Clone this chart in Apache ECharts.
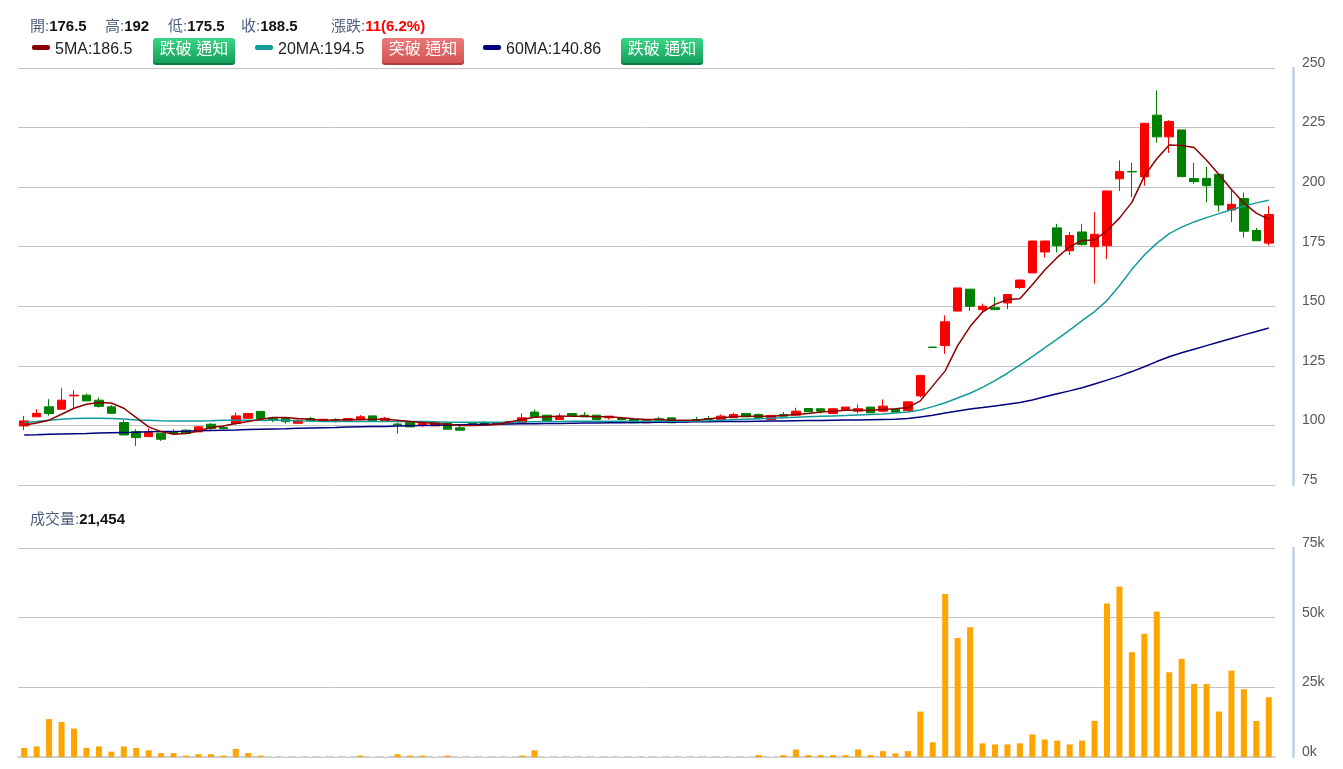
<!DOCTYPE html>
<html>
<head>
<meta charset="utf-8">
<script src="https://cdn.jsdelivr.net/npm/echarts@6/dist/echarts.min.js"></script>
<style>
html,body{margin:0;padding:0;background:#fff;}
#chart{width:1343px;height:769px;}
</style>
</head>
<body>
<div id="chart"></div>
<script>
// ---------- data ----------
var opens = [99.8,103.6,107.8,106.8,112.4,112.7,110.6,107.8,101.2,97.4,
  95.3,96.7,97.4,98.0,97.3,100.5,99.1,100.8,103.0,105.9,
  103.0,103.3,100.9,102.9,101.9,102.4,101.9,102.6,104.0,101.9,
  100.6,101.2,100.1,99.8,101.0,99.0,100.8,101.1,100.6,101.1,
  100.8,105.6,104.3,102.5,105.0,104.3,104.3,103.2,102.9,102.5,
  101.1,102.8,103.2,101.4,102.5,102.9,102.5,103.2,105.0,104.6,
  102.5,104.6,104.3,107.1,107.0,105.0,106.7,106.0,107.7,106.0,
  106.7,106.2,112.4,132.9,133.5,148.0,157.2,148.6,149.4,151.4,
  157.9,164.0,172.8,182.9,173.3,181.2,175.0,175.4,203.5,206.6,
  204.3,230.2,221.1,224.0,203.6,203.7,205.4,190.4,195.2,181.8,
  176.5];
var closes = [101.9,105.1,105.0,110.6,112.7,110.3,108.0,105.1,96.0,94.9,
  97.0,94.2,96.6,96.6,99.4,98.7,98.7,104.0,105.0,102.9,
  102.1,101.6,102.2,101.9,102.6,102.2,102.9,103.6,101.9,103.0,
  100.3,99.4,100.8,101.2,98.4,98.0,100.0,100.4,100.8,101.7,
  103.2,103.6,102.1,103.9,104.2,103.6,102.5,103.9,102.5,101.1,
  102.5,102.2,101.1,101.8,102.2,102.5,103.9,104.6,103.6,102.9,
  104.2,103.9,106.0,105.7,106.0,107.0,107.7,107.0,105.3,108.1,
  105.6,109.9,121.0,132.7,143.5,157.7,150.0,150.0,148.6,154.9,
  161.0,177.4,177.4,175.4,179.7,175.9,180.2,198.4,206.6,206.4,
  226.8,221.1,227.5,204.4,202.3,200.6,192.5,192.8,181.5,177.5,
  188.5];
var lows = [98.0,103.6,104.1,106.8,107.5,110.3,107.5,105.1,96.0,91.4,
  95.3,93.5,96.3,96.3,97.3,97.7,98.4,100.2,103.0,102.9,
  101.4,100.8,100.9,101.6,101.9,101.3,101.9,102.6,101.9,101.6,
  96.6,99.4,99.4,99.8,98.4,98.0,100.0,100.0,100.6,101.1,
  100.8,103.6,102.1,102.5,104.2,103.6,102.5,102.5,102.2,101.1,
  101.1,102.2,101.1,101.4,101.4,102.2,102.5,103.2,103.6,102.5,
  102.5,103.9,104.3,105.7,105.0,105.0,106.7,105.0,105.3,105.5,
  105.6,106.2,111.7,132.7,130.0,148.0,148.0,147.3,148.6,148.8,
  157.2,164.0,170.5,172.6,171.5,175.5,159.5,169.8,198.4,195.9,
  200.6,218.7,214.4,204.4,201.4,193.6,189.7,185.3,178.8,177.5,
  175.5];
var highs = [104.0,106.8,111.0,115.6,114.8,113.4,111.7,108.6,102.2,98.4,
  98.7,96.7,98.4,98.4,99.8,100.9,99.8,105.4,105.3,105.9,
  103.6,103.6,102.6,103.6,102.6,103.0,102.9,104.3,104.0,103.6,
  101.2,101.2,101.2,101.2,101.0,100.0,100.8,101.8,100.8,101.7,
  105.0,106.7,104.3,105.0,105.0,105.6,104.3,103.9,103.6,102.5,
  102.5,103.6,103.2,101.8,103.6,103.9,104.6,105.3,105.0,105.0,
  104.2,105.6,107.4,107.1,107.0,107.0,107.7,108.8,107.7,110.9,
  106.7,109.9,121.0,132.9,146.2,157.7,157.2,151.1,153.9,154.9,
  161.3,177.4,177.4,184.6,181.2,184.6,189.5,198.4,211.2,210.2,
  226.8,240.6,228.1,224.0,210.2,208.5,205.4,199.0,197.7,182.9,
  192.0];
var volumes = [3300,3800,13600,12600,10200,3300,3800,1900,3800,3300,
  2400,1400,1400,500,1000,1000,500,2900,1400,500,
  0,0,0,0,0,0,0,500,0,0,
  1000,500,500,0,500,0,0,0,0,0,
  500,2400,0,0,0,0,0,0,0,0,
  0,0,0,0,0,0,0,0,0,700,
  0,700,2700,700,700,700,700,2700,700,2100,
  1300,2100,16300,5300,58500,42700,46600,4900,4500,4500,
  4900,8100,6300,5900,4500,5900,13000,55100,61200,37600,
  44200,52200,30400,35200,26200,26200,16300,31000,24300,12900,
  21454];
var ma5 = [100.2,101.0,102.2,104.7,107.2,108.9,109.6,109.4,107.2,103.3,
  99.4,97.4,96.3,96.6,97.7,99.1,99.8,100.8,101.6,102.6,
  103.3,103.3,102.9,102.6,102.2,102.3,102.4,102.4,102.6,102.6,
  102.2,101.6,101.2,100.8,100.5,100.0,100.0,100.1,100.4,101.4,
  102.5,103.4,103.6,103.9,103.9,103.9,103.6,103.6,103.2,102.8,
  102.5,102.5,102.2,102.2,102.2,102.8,103.2,103.6,103.9,103.9,
  103.9,104.2,104.6,105.0,105.6,106.0,106.4,106.4,106.4,106.7,
  107.0,107.5,110.3,116.6,122.9,133.5,141.5,147.6,150.8,152.8,
  153.2,159.0,165.2,170.5,175.0,177.6,177.8,181.8,187.0,193.6,
  204.6,211.9,217.7,217.5,216.6,211.3,205.3,199.0,193.3,189.1,
  186.5];
var ma20 = [101.2,101.6,102.2,102.6,102.9,103.0,103.0,102.9,102.7,102.3,
  102.2,102.0,101.9,101.9,101.9,102.0,102.2,102.2,102.2,102.2,
  102.2,102.2,102.0,101.9,101.7,101.6,101.6,101.6,101.6,101.6,
  101.6,101.6,101.6,101.5,101.3,101.3,101.3,101.3,101.3,101.3,
  101.4,101.5,101.6,101.7,101.8,101.8,101.8,101.8,101.8,101.8,
  101.8,101.8,101.8,101.8,101.9,102.0,102.2,102.4,102.6,102.8,
  103.0,103.2,103.4,103.6,103.8,104.0,104.2,104.4,104.6,104.8,
  105.2,105.6,106.5,107.9,109.5,111.5,113.5,116.0,118.8,121.9,
  125.3,128.9,132.5,136.2,140.0,144.0,147.8,152.4,158.6,165.5,
  171.5,176.4,180.5,183.2,185.4,187.2,188.9,190.5,192.0,193.4,
  194.5];
var ma60 = [96.0,96.1,96.3,96.4,96.5,96.6,96.8,96.9,97.0,97.1,
  97.3,97.4,97.5,97.6,97.8,97.9,98.0,98.1,98.3,98.4,
  98.5,98.6,98.8,98.9,99.0,99.1,99.3,99.4,99.5,99.6,
  99.8,99.9,100.0,100.1,100.2,100.3,100.4,100.5,100.5,100.6,
  100.7,100.7,100.8,100.8,100.9,101.0,101.0,101.1,101.1,101.2,
  101.2,101.3,101.3,101.4,101.5,101.5,101.6,101.7,101.7,101.8,
  101.9,101.9,102.0,102.1,102.1,102.2,102.3,102.3,102.4,102.5,
  102.6,102.9,103.5,104.3,105.2,106.1,106.9,107.5,108.2,108.9,
  109.6,110.7,112.0,113.3,114.5,115.8,117.4,119.0,120.7,122.6,
  124.6,126.8,128.8,130.5,132.0,133.5,135.0,136.5,138.0,139.4,
  140.86];
var categories = [];
for (var k = 0; k < closes.length; k++) categories.push('D' + (k + 1));

var priceTicks = {min: 75, max: 250, interval: 25};
var volTicks = {min: 0, max: 75000, interval: 25000};

var headerItems = [
  {label: '開:', value: '176.5'},
  {label: '高:', value: '192'},
  {label: '低:', value: '175.5'},
  {label: '收:', value: '188.5'},
  {label: '漲跌:', value: '11(6.2%)'}
];
var maLegend = [
  {name: '5MA', value: '186.5', color: '#8b0000', button: '跌破 通知', kind: 'green'},
  {name: '20MA', value: '194.5', color: '#129a9a', button: '突破 通知', kind: 'red'},
  {name: '60MA', value: '140.86', color: '#00007f', button: '跌破 通知', kind: 'green'}
];
var volumeLabel = {label: '成交量:', value: '21,454'};

// ---------- build ----------
var FONT = "'Liberation Sans', Arial, 'Noto Sans CJK TC', sans-serif";
var ohlc = opens.map(function (o, i) { return [o, closes[i], lows[i], highs[i]]; });

var headerX = [30, 105, 168, 241, 331];
var graphics = [];
headerItems.forEach(function (h, i) {
  graphics.push({
    type: 'text', x: headerX[i], y: 27,
    style: {
      text: '{l|' + h.label + '}{' + (i === 4 ? 'r' : 'v') + '|' + h.value + '}',
      verticalAlign: 'middle',
      rich: {
        l: {fontSize: 15, fontFamily: FONT, fill: '#4f6180', color: '#4f6180'},
        v: {fontSize: 15, fontFamily: FONT, fontWeight: 'bold', fill: '#111', color: '#111'},
        r: {fontSize: 15, fontFamily: FONT, fontWeight: 'bold', fill: '#ff0000', color: '#ff0000'}
      }
    }
  });
});
var legendX = [32, 255, 483];
var btnX = [153, 382, 621];
maLegend.forEach(function (m, i) {
  graphics.push({type: 'rect', shape: {x: legendX[i], y: 45, width: 18, height: 5, r: 2}, style: {fill: m.color}});
  graphics.push({type: 'text', x: legendX[i] + 23, y: 50,
    style: {text: m.name + ':' + m.value, fontSize: 16, fontFamily: FONT, fill: '#222', verticalAlign: 'middle'}});
  var top = m.kind === 'green' ? '#3bd585' : '#ec7a7a';
  var bot = m.kind === 'green' ? '#14a05a' : '#d45454';
  var edge = m.kind === 'green' ? '#0d7c43' : '#b03c3c';
  graphics.push({type: 'rect', shape: {x: btnX[i], y: 39, width: 82, height: 26, r: 3}, style: {fill: edge}});
  graphics.push({type: 'rect', shape: {x: btnX[i], y: 38, width: 82, height: 25, r: 3},
    style: {fill: new echarts.graphic.LinearGradient(0, 0, 0, 1, [{offset: 0, color: top}, {offset: 1, color: bot}])}});
  graphics.push({type: 'text', x: btnX[i] + 41, y: 50,
    style: {text: m.button, fontSize: 16, fontFamily: FONT, fill: '#fff', align: 'center', verticalAlign: 'middle'}});
});
graphics.push({
  type: 'text', x: 30, y: 520,
  style: {
    text: '{l|' + volumeLabel.label + '}{v|' + volumeLabel.value + '}',
    verticalAlign: 'middle',
    rich: {
      l: {fontSize: 15, fontFamily: FONT, fill: '#4f6180', color: '#4f6180'},
      v: {fontSize: 15, fontFamily: FONT, fontWeight: 'bold', fill: '#111', color: '#111'}
    }
  }
});

var chart = echarts.init(document.getElementById('chart'), null, {renderer: 'canvas'});
var axisLabelStyle = {color: '#555', fontSize: 14, fontFamily: FONT, margin: 9, verticalAlign: 'bottom', lineHeight: 10};
chart.setOption({
  animation: false,
  backgroundColor: '#fff',
  graphic: graphics,
  grid: [
    {left: 18, right: 68, top: 68, height: 417},
    {left: 18, right: 68, top: 548, height: 209}
  ],
  xAxis: [
    {type: 'category', data: categories, gridIndex: 0, boundaryGap: true,
      axisLine: {show: false}, axisTick: {show: false}, axisLabel: {show: false}, splitLine: {show: false}},
    {type: 'category', data: categories, gridIndex: 1, boundaryGap: true,
      axisLine: {show: true, lineStyle: {color: '#cfcfcf', width: 2, type: [7, 5.45], dashOffset: 3.5}},
      axisTick: {show: false}, axisLabel: {show: false}, splitLine: {show: false}}
  ],
  yAxis: [
    {type: 'value', gridIndex: 0, position: 'right', offset: 18,
      min: priceTicks.min, max: priceTicks.max, interval: priceTicks.interval,
      axisLine: {show: true, lineStyle: {color: '#bfd0e2', width: 2.5}},
      axisTick: {show: false}, axisLabel: axisLabelStyle,
      splitLine: {show: true, lineStyle: {color: '#c4c4c4', width: 1}}},
    {type: 'value', gridIndex: 1, position: 'right', offset: 18,
      min: volTicks.min, max: volTicks.max, interval: volTicks.interval,
      axisLine: {show: true, lineStyle: {color: '#bfd0e2', width: 2.5}},
      axisTick: {show: false},
      axisLabel: Object.assign({}, axisLabelStyle, {formatter: function (v) { return (v / 1000) + 'k'; }}),
      splitLine: {show: true, lineStyle: {color: '#c4c4c4', width: 1}}}
  ],
  series: [
    {type: 'candlestick', xAxisIndex: 0, yAxisIndex: 0, data: ohlc, barWidth: 9,
      itemStyle: {color: '#ff0000', color0: '#008000', borderColor: '#ff0000', borderColor0: '#008000', borderWidth: 1}},
    {type: 'line', xAxisIndex: 0, yAxisIndex: 0, data: ma60, symbol: 'none', smooth: false,
      lineStyle: {color: '#00007f', width: 1.5}},
    {type: 'line', xAxisIndex: 0, yAxisIndex: 0, data: ma20, symbol: 'none', smooth: false,
      lineStyle: {color: '#129a9a', width: 1.5}},
    {type: 'line', xAxisIndex: 0, yAxisIndex: 0, data: ma5, symbol: 'none', smooth: false,
      lineStyle: {color: '#8b0000', width: 1.5}},
    {type: 'bar', xAxisIndex: 1, yAxisIndex: 1, data: volumes, barWidth: 6,
      itemStyle: {color: '#ffa500'}}
  ]
});
</script>
</body>
</html>
